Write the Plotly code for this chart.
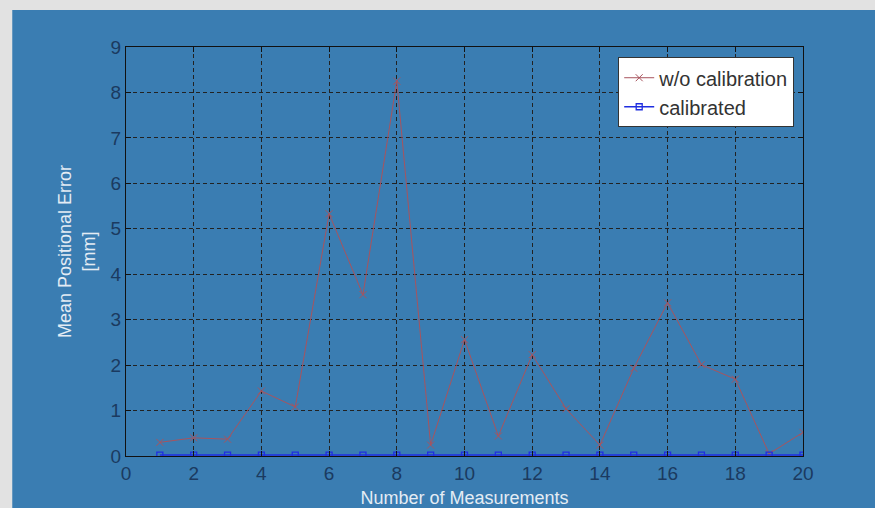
import plotly.graph_objects as go

measurements = list(range(1, 21))
wo_calibration = [0.30, 0.40, 0.37, 1.43, 1.08, 5.33, 3.55, 8.25, 0.24, 2.56,
                  0.44, 2.23, 1.04, 0.24, 1.93, 3.37, 2.01, 1.69, 0.05, 0.52]
calibrated = [0.02] * 20
x_ticks = list(range(0, 21, 2))
y_ticks = list(range(0, 10))

BLUE_BG = "#3a7db2"
TICK_COL = "#1b3a60"
TITLE_COL = "#e4ecf4"
FONT = "Liberation Sans, Arial"

fig = go.Figure()
fig.add_trace(go.Scatter(
    x=measurements, y=wo_calibration, mode="lines+markers", name="w/o calibration",
    line=dict(color="#a8545e", width=1),
    marker=dict(symbol="x-thin-open", size=7, color="#a8545e", line=dict(width=1, color="#a8545e")),
))
fig.add_trace(go.Scatter(
    x=measurements, y=calibrated, mode="lines+markers", name="calibrated",
    line=dict(color="#1f2ee0", width=1.5),
    marker=dict(symbol="square-open", size=6, color="#1f2ee0", line=dict(width=1.3)),
))

axis_common = dict(
    showline=True, linecolor="#111111", linewidth=1, mirror="ticks",
    ticks="inside", ticklen=5, tickcolor="#111111",
    showgrid=True, gridcolor="#222222", gridwidth=1, griddash="4px,3px",
    zeroline=False,
    tickfont=dict(family=FONT, size=19, color=TICK_COL),
    title_font=dict(family=FONT, size=18, color=TITLE_COL),
)

fig.update_xaxes(range=[0, 20], tickvals=x_ticks, title_text="Number of Measurements",
                 title_standoff=8, **axis_common)
fig.update_yaxes(range=[0, 9], tickvals=y_ticks, title_text="Mean Positional Error<br>[mm]",
                 title_standoff=10, **axis_common)

fig.add_shape(type="rect", xref="paper", yref="paper", x0=-0.168, x1=1.25, y0=-0.25, y1=1.0905,
              fillcolor=BLUE_BG, line=dict(width=0), layer="below")

fig.update_layout(
    width=875, height=508,
    margin=dict(l=126, r=72, t=47, b=52, autoexpand=False),
    paper_bgcolor="#e2e2e2",
    plot_bgcolor="white",
    showlegend=True,
    legend=dict(x=0.987, y=0.975, xanchor="right", yanchor="top",
                bgcolor="white", bordercolor="#333333", borderwidth=1,
                font=dict(family=FONT, size=20, color="#333333"),
                tracegroupgap=0),
)

fig.write_html("out.html", config={"displayModeBar": False},
               post_script="document.body.style.margin='0';document.body.style.overflow='hidden';")
